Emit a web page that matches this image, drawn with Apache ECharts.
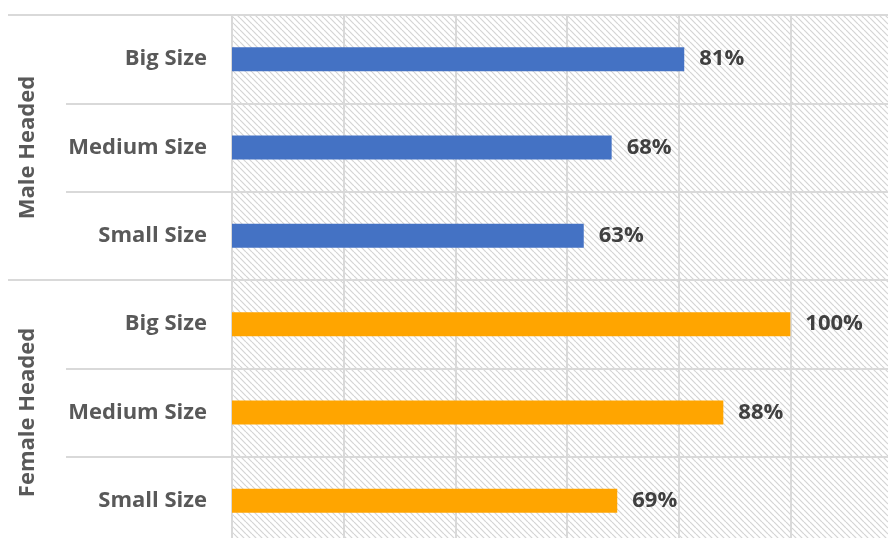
<!DOCTYPE html>
<html>
<head>
<meta charset="utf-8">
<script src="https://cdn.jsdelivr.net/npm/echarts@6/dist/echarts.min.js"></script>
<style>
  html, body { margin: 0; padding: 0; background: #ffffff; }
  #chart { width: 888px; height: 538px; }
</style>
</head>
<body>
<div id="chart"></div>
<script>
// Household groups and farm size classes
const groups = ['Male Headed', 'Female Headed'];
const sizes = ['Big Size', 'Medium Size', 'Small Size'];
// Share (%) per size class, listed in the same order as `sizes`
const maleValues = [81, 68, 63];
const femaleValues = [100, 88, 69];
// Value axis ticks
const axisMin = 0;
const axisMax = 120;
const axisStep = 20;

const FONT = '"Open Sans", "Liberation Sans", sans-serif';
const FONT_SIZE = 22;
const GRID_COLOR = '#d9d9d9';

// One category per (group, size) row; keys are unique, labels show the size only
const rowKeys = [];
groups.forEach(g => sizes.forEach(s => rowKeys.push(g + '|' + s)));

const blank = sizes.map(() => '-');
const maleData = maleValues.concat(blank);
const femaleData = blank.concat(femaleValues);

// Diagonal hatch fill for the plotting area
function hatchPattern() {
  const s = 6;
  const c = document.createElement('canvas');
  c.width = s; c.height = s;
  const ctx = c.getContext('2d');
  ctx.fillStyle = '#ffffff';
  ctx.fillRect(0, 0, s, s);
  ctx.strokeStyle = '#d4d4d4';
  ctx.lineWidth = 1.2;
  for (let k = -s; k <= s; k += s) {
    ctx.beginPath();
    ctx.moveTo(k, 0);
    ctx.lineTo(k + s, s);
    ctx.stroke();
  }
  return { image: c, repeat: 'repeat' };
}

const valueLabel = {
  show: true, position: 'right', distance: 15,
  formatter: '{c}%',
  color: '#404040', fontFamily: FONT, fontWeight: 'bold', fontSize: FONT_SIZE
};

const chart = echarts.init(document.getElementById('chart'));
chart.setOption({
  animation: false,
  backgroundColor: '#ffffff',
  grid: {
    left: 232, top: 15, right: -14, height: 530,
    outerBoundsMode: 'none',
    show: true, borderWidth: 0,
    backgroundColor: hatchPattern()
  },
  xAxis: {
    type: 'value',
    min: axisMin, max: axisMax, interval: axisStep,
    axisLine: { show: false },
    axisTick: { show: false },
    axisLabel: { show: false },
    splitLine: { show: true, lineStyle: { color: GRID_COLOR, width: 2 } }
  },
  yAxis: [
    {
      type: 'category',
      data: rowKeys,
      inverse: true,
      axisLine: { show: false },
      axisTick: { show: true, length: 166, lineStyle: { color: GRID_COLOR, width: 2 } },
      splitLine: { show: true, lineStyle: { color: GRID_COLOR, width: 2 } },
      axisLabel: {
        margin: 25,
        color: '#595959',
        fontFamily: FONT,
        fontWeight: 'bold',
        fontSize: FONT_SIZE,
        formatter: v => v.split('|')[1]
      }
    },
    {
      type: 'category',
      data: groups,
      inverse: true,
      position: 'left',
      axisLine: { show: false },
      axisTick: { show: true, length: 224, lineStyle: { color: GRID_COLOR, width: 2 } },
      splitLine: { show: false },
      axisLabel: {
        rotate: 90,
        margin: 193,
        color: '#595959',
        fontFamily: FONT,
        fontWeight: 'bold',
        fontSize: FONT_SIZE
      }
    }
  ],
  series: [
    {
      name: groups[0],
      type: 'bar',
      yAxisIndex: 0,
      data: maleData,
      barWidth: 24,
      barGap: '-100%',
      itemStyle: { color: '#4472C4' },
      label: valueLabel
    },
    {
      name: groups[1],
      type: 'bar',
      yAxisIndex: 0,
      data: femaleData,
      barWidth: 24,
      barGap: '-100%',
      itemStyle: { color: '#FFA500' },
      label: valueLabel
    }
  ]
});
</script>
</body>
</html>
